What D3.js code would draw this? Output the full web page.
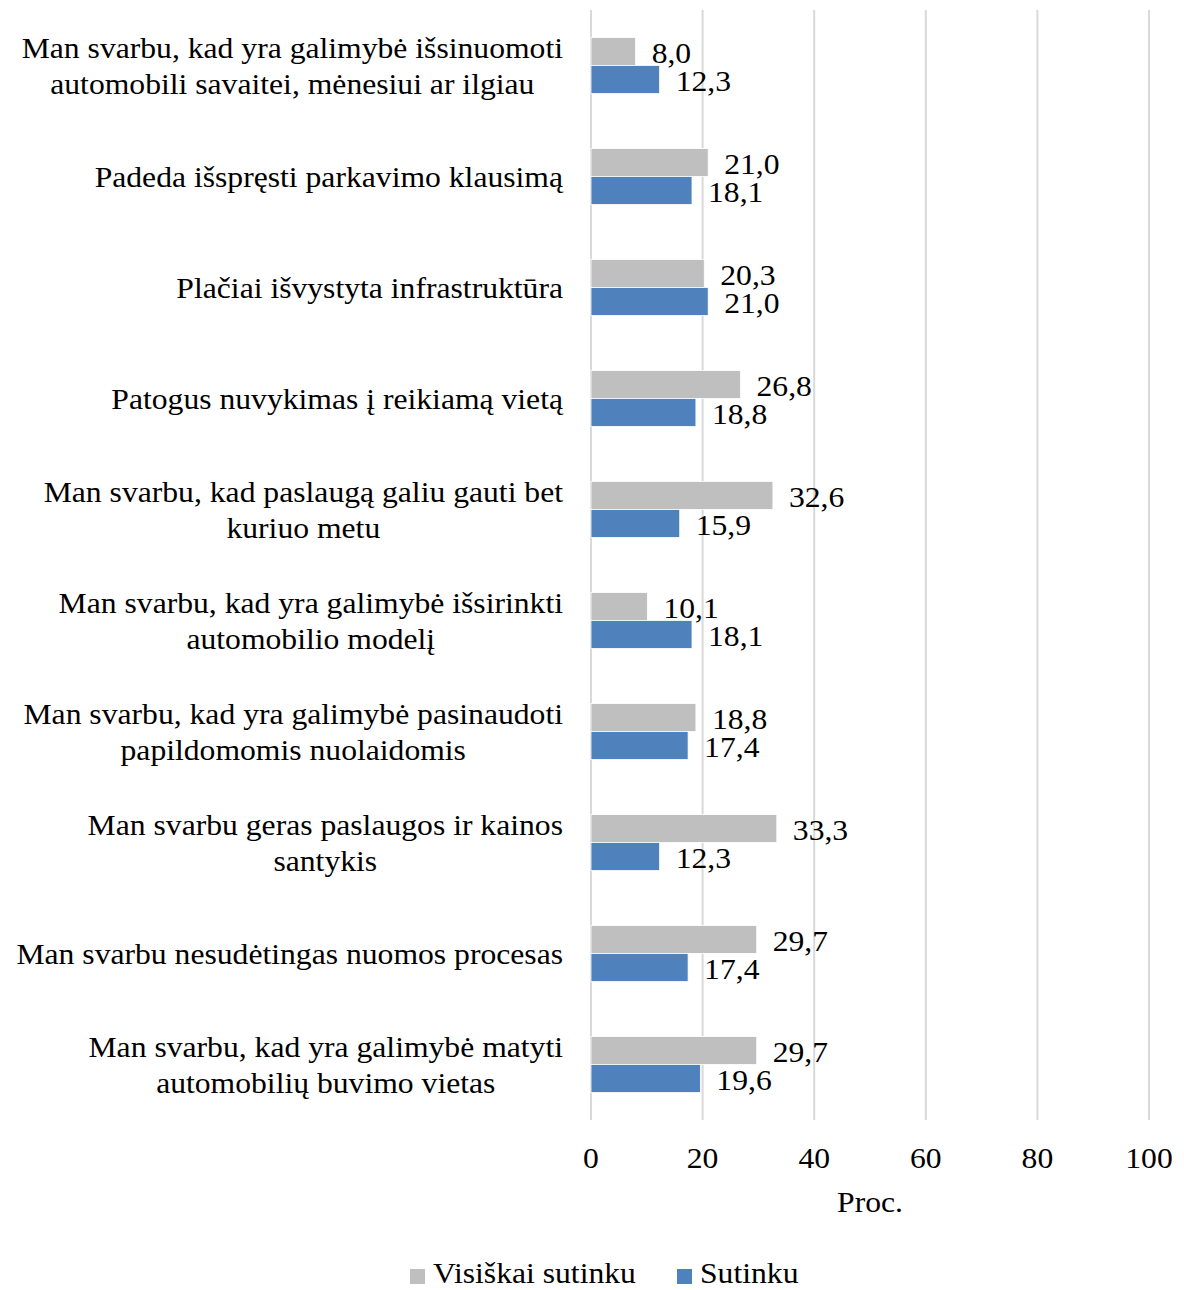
<!DOCTYPE html>
<html><head><meta charset="utf-8">
<script src="https://cdn.jsdelivr.net/npm/d3@7"></script>
<style>body{margin:0;background:#fff}svg{display:block}</style>
</head><body>
<script>
const categories = [
  "Man svarbu, kad yra galimybė išsinuomoti\nautomobili savaitei, mėnesiui ar ilgiau",
  "Padeda išspręsti parkavimo klausimą",
  "Plačiai išvystyta infrastruktūra",
  "Patogus nuvykimas į reikiamą vietą",
  "Man svarbu, kad paslaugą galiu gauti bet\nkuriuo metu",
  "Man svarbu, kad yra galimybė išsirinkti\nautomobilio modelį",
  "Man svarbu, kad yra galimybė pasinaudoti\npapildomomis nuolaidomis",
  "Man svarbu geras paslaugos ir kainos\nsantykis",
  "Man svarbu nesudėtingas nuomos procesas",
  "Man svarbu, kad yra galimybė matyti\nautomobilių buvimo vietas"
];
const visiskaiSutinku = [8.0, 21.0, 20.3, 26.8, 32.6, 10.1, 18.8, 33.3, 29.7, 29.7];
const sutinku = [12.3, 18.1, 21.0, 18.8, 15.9, 18.1, 17.4, 12.3, 17.4, 19.6];
const seriesNames = ["Visiškai sutinku", "Sutinku"];
const xTicks = [0, 20, 40, 60, 80, 100];
const axisTitle = "Proc.";

const FONT = "'Liberation Serif', 'Times New Roman', Tinos, 'DejaVu Serif', serif";
const FS = 30, SX = 1.055;
const W = 1184, H = 1290;
const colors = ["#bfbfbf", "#4f81bd"];
const svg = d3.select("body").append("svg").attr("width", W).attr("height", H)
  .style("font-family", FONT);

const x = d3.scaleLinear().domain([0, 100]).range([591, 1149]);
const y = d3.scaleBand().domain(categories).range([10, 1120]);
const barH = 28;
const fmt = v => v.toFixed(1).replace(".", ",");

function txt(parent, tx, ty, s, anchor) {
  return parent.append("text")
    .attr("font-family", FONT).attr("font-size", FS)
    .attr("text-anchor", anchor || "start")
    .attr("transform", `translate(${tx},${ty}) scale(${SX},1)`)
    .text(s);
}

svg.append("g").selectAll("line").data(xTicks).join("line")
  .attr("x1", d => x(d)).attr("x2", d => x(d))
  .attr("y1", 10).attr("y2", 1120)
  .attr("stroke", "#d9d9d9").attr("stroke-width", 2);

const series = [visiskaiSutinku, sutinku];
series.forEach((vals, si) => {
  const g = svg.append("g");
  g.selectAll("rect").data(categories).join("rect")
    .attr("x", x(0))
    .attr("y", (c) => y(c) + y.bandwidth() / 2 - barH + si * barH)
    .attr("width", (c, i) => x(vals[i]) - x(0))
    .attr("height", barH)
    .attr("fill", colors[si])
    .attr("stroke", "#ffffff").attr("stroke-width", 0.8);
  categories.forEach((c, i) => {
    const cy = y(c) + y.bandwidth() / 2 - barH / 2 + si * barH;
    txt(g, x(vals[i]) + 16, cy + 11, fmt(vals[i]));
  });
});

const lab = svg.append("g");
categories.forEach(c => {
  const lines = c.split("\n");
  const cy = y(c) + y.bandwidth() / 2;
  const lh = 36;
  const ts = lines.map((l, i) => txt(lab, 0, cy + 10 + (i - (lines.length - 1) / 2) * lh, l, "middle"));
  const maxW = d3.max(ts, t => t.node().getComputedTextLength()) * SX;
  const cx = 563 - maxW / 2;
  ts.forEach((t, i) => {
    t.attr("transform", `translate(${cx},${cy + 10 + (i - (lines.length - 1) / 2) * lh}) scale(${SX},1)`);
  });
});

const ax = svg.append("g");
xTicks.forEach(d => txt(ax, x(d), 1168, d, "middle"));

txt(svg, (x(0) + x(100)) / 2, 1212, axisTitle, "middle");

const legX = [410, 677];
seriesNames.forEach((n, i) => {
  svg.append("rect").attr("x", legX[i]).attr("y", 1269).attr("width", 15).attr("height", 15).attr("fill", colors[i]);
  txt(svg, legX[i] + 23, 1283, n);
});
</script>
</body></html>
